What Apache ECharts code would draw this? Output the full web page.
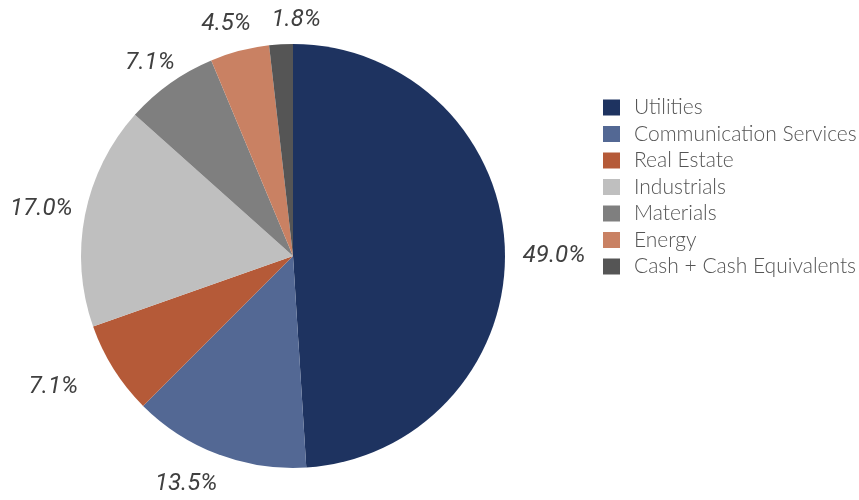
<!DOCTYPE html>
<html><head><meta charset="utf-8">
<script src="https://cdn.jsdelivr.net/npm/echarts@6/dist/echarts.min.js"></script>
<style>html,body{margin:0;padding:0;background:#fff}#c{width:859px;height:500px}</style>
</head><body><div id="c"></div>
<script>
const categories = ["Utilities","Communication Services","Real Estate","Industrials","Materials","Energy","Cash + Cash Equivalents"];
const values = [49.0, 13.5, 7.1, 17.0, 7.1, 4.5, 1.8];
const colors = ["#1e3360","#536894","#b55a38","#bfbfbf","#7f7f7f","#c98163","#555555"];
// label placement style: distance of label centre from pie centre, and angular nudge (deg)
const labelRadius = [261, 252, 273, 256, 240, 241, 236];
const labelAngleShift = [1.8, 4.4, 3.6, -0.6, -1.1, -1.5, 4.0];

const CX = 293, CY = 256, R = 212;
const total = values.reduce((a,b)=>a+b,0);
const midAngles = [];
{ let acc = 0; values.forEach(v=>{ midAngles.push((acc + v/2)/total*360); acc += v; }); }

const chart = echarts.init(document.getElementById('c'));
chart.setOption({
  animation:false,
  color: colors,
  legend:{
    orient:'vertical', left:598, top:92,
    itemWidth:17, itemHeight:16, itemGap:5.5,
    icon:'rect',
    textStyle:{fontFamily:'Lato', fontWeight:300, fontSize:21, color:'#555', padding:[0,0,0,9]},
    data: categories
  },
  series:[{
    type:'pie', center:[CX,CY], radius:[0,R], startAngle:90, clockwise:true,
    data: categories.map((c,i)=>({name:c, value:values[i]})),
    itemStyle:{borderWidth:0},
    label:{show:true, position:'outside', formatter:p=>p.value.toFixed(1)+'%',
      fontFamily:'Roboto', fontStyle:'italic', fontWeight:400, fontSize:24, color:'#404040'},
    labelLine:{show:false, length:10, length2:0},
    labelLayout:function(p){
      const i = p.dataIndex;
      const a = (midAngles[i] + labelAngleShift[i]) * Math.PI/180;
      return {x: CX + labelRadius[i]*Math.sin(a), y: CY - labelRadius[i]*Math.cos(a), align:'center', verticalAlign:'middle'};
    },
    emphasis:{disabled:true}
  }]
});
</script></body></html>
